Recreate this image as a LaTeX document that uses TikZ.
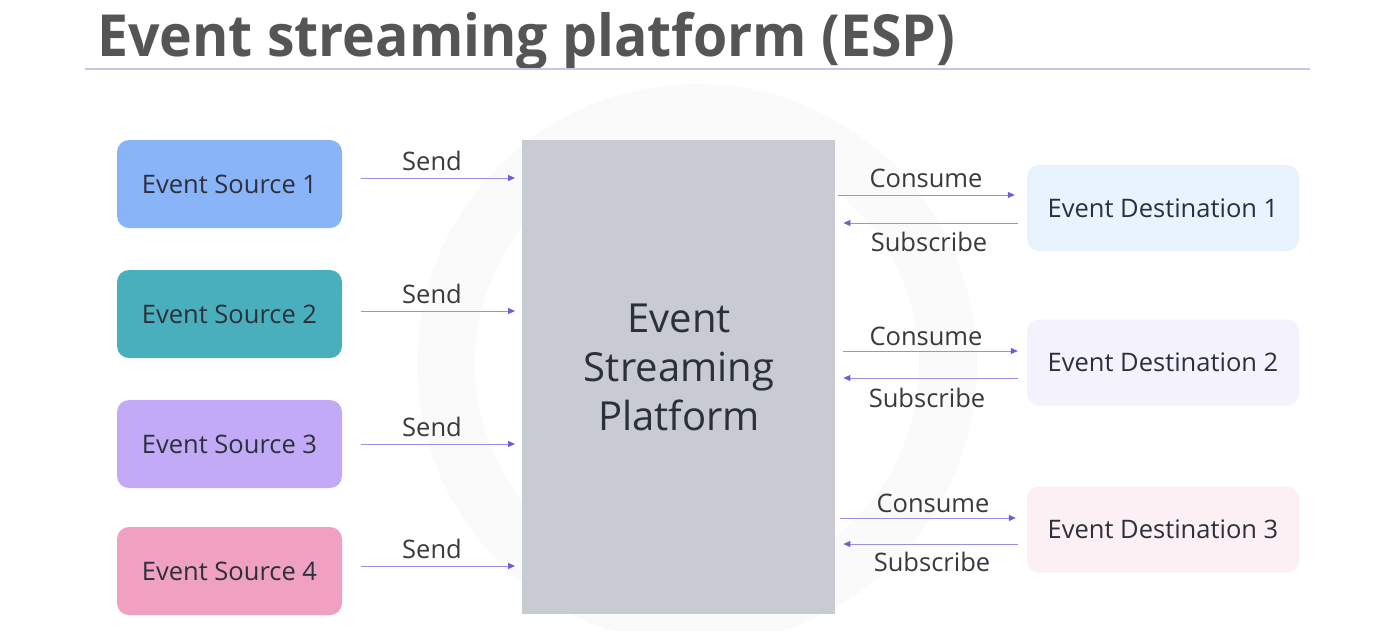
\documentclass[tikz,border=0pt]{standalone}
\usepackage{fontspec}
\setmainfont{Open Sans}
\usetikzlibrary{arrows.meta}
\definecolor{titlegray}{HTML}{555555}
\definecolor{rulec}{HTML}{C9C5E2}
\definecolor{srcA}{HTML}{8AB4F8}
\definecolor{srcB}{HTML}{4AAFBC}
\definecolor{srcC}{HTML}{C3AAF7}
\definecolor{srcD}{HTML}{F0A0C0}
\definecolor{dstA}{HTML}{E8F3FD}
\definecolor{dstB}{HTML}{F4F2FD}
\definecolor{dstC}{HTML}{FDF0F5}
\definecolor{espc}{HTML}{C8CBD2}
\definecolor{txt}{HTML}{2B303B}
\definecolor{lbl}{HTML}{3A3A3A}
\definecolor{arrc}{HTML}{9C8FE3}
\definecolor{arrh}{HTML}{6F5CD6}
\definecolor{ringc}{HTML}{FAFAFB}
\begin{document}
\begin{tikzpicture}[x=1pt,y=-1pt,
  srcbox/.style={rounded corners=12pt, minimum width=225pt, minimum height=88pt, inner sep=0pt,
     text=txt, font=\fontsize{25.5}{30}\selectfont},
  dstbox/.style={rounded corners=12pt, minimum width=272pt, minimum height=86pt, inner sep=0pt,
     text=txt, font=\fontsize{25.5}{30}\selectfont},
  lab/.style={text=lbl, font=\fontsize{25.5}{30}\selectfont, inner sep=0pt},
  arr/.style={draw=arrc, line width=1pt, -{Triangle[length=7pt,width=6pt,color=arrh]}}
]
\useasboundingbox (0,0) rectangle (1392,630);
\fill[white] (0,0) rectangle (1392,630);
% faint watermark ring
\draw[ringc, line width=58pt] (697,364) circle[radius=251];
% title
\node[anchor=base west, inner sep=0pt, text=titlegray, font=\fontsize{58}{64}\selectfont\bfseries] (title) at (97,56) {\scalebox{0.955}[1]{Event streaming platform (ESP)}};
\draw[rulec, line width=1.5pt] (85,69) -- (1310,69);
% platform
\node[fill=espc, minimum width=313pt, minimum height=474pt, inner sep=0pt, anchor=north west] (esp) at (522,140) {};
\node[text=txt, align=center, font=\fontsize{40}{49}\selectfont] (esptext) at (679,367) {Event\\Streaming\\Platform};
% sources
\node[srcbox, fill=srcA] (s1) at (229.5,184) {Event Source 1};
\node[srcbox, fill=srcB] (s2) at (229.5,314) {Event Source 2};
\node[srcbox, fill=srcC] (s3) at (229.5,444) {Event Source 3};
\node[srcbox, fill=srcD] (s4) at (229.5,571) {Event Source 4};
% destinations
\node[dstbox, fill=dstA] (d1) at (1163,208) {Event Destination 1};
\node[dstbox, fill=dstB] (d2) at (1163,362.5) {Event Destination 2};
\node[dstbox, fill=dstC] (d3) at (1163,529.5) {Event Destination 3};
% send arrows
\draw[arr] ([xshift=19pt,yshift=6pt]s1.east) -- ([xshift=-7pt,yshift=6pt]s1.east -| esp.west);
\draw[arr] ([xshift=19pt,yshift=3pt]s2.east) -- ([xshift=-7pt,yshift=3pt]s2.east -| esp.west);
\draw[arr] ([xshift=19pt]s3.east) -- ([xshift=-7pt]s3.east -| esp.west);
\draw[arr] ([xshift=19pt,yshift=5pt]s4.east) -- ([xshift=-7pt,yshift=5pt]s4.east -| esp.west);
\node[lab] (l1) at (432,161) {Send};
\node[lab] (l2) at (432,294) {Send};
\node[lab] (l3) at (432,427) {Send};
\node[lab] (l4) at (432,549) {Send};
% destination arrows
\draw[arr] ([xshift=3pt,yshift=13pt]d1.west -| esp.east) -- ([xshift=-12pt,yshift=13pt]d1.west);
\draw[arr] ([xshift=-9pt,yshift=-15pt]d1.west) -- ([xshift=8pt,yshift=-15pt]d1.west -| esp.east);
\draw[arr] ([xshift=8pt,yshift=11.5pt]d2.west -| esp.east) -- ([xshift=-9pt,yshift=11.5pt]d2.west);
\draw[arr] ([xshift=-9pt,yshift=-15.5pt]d2.west) -- ([xshift=8pt,yshift=-15.5pt]d2.west -| esp.east);
\draw[arr] ([xshift=5pt,yshift=11.5pt]d3.west -| esp.east) -- ([xshift=-11pt,yshift=11.5pt]d3.west);
\draw[arr] ([xshift=-9pt,yshift=-14.5pt]d3.west) -- ([xshift=8pt,yshift=-14.5pt]d3.west -| esp.east);
\node[lab] (c1) at (926,178) {Consume};
\node[lab] (u1) at (929,242) {Subscribe};
\node[lab] (c2) at (926,336) {Consume};
\node[lab] (u2) at (927,398) {Subscribe};
\node[lab] (c3) at (933,503) {Consume};
\node[lab] (u3) at (932,562) {Subscribe};
\end{tikzpicture}
\end{document}
